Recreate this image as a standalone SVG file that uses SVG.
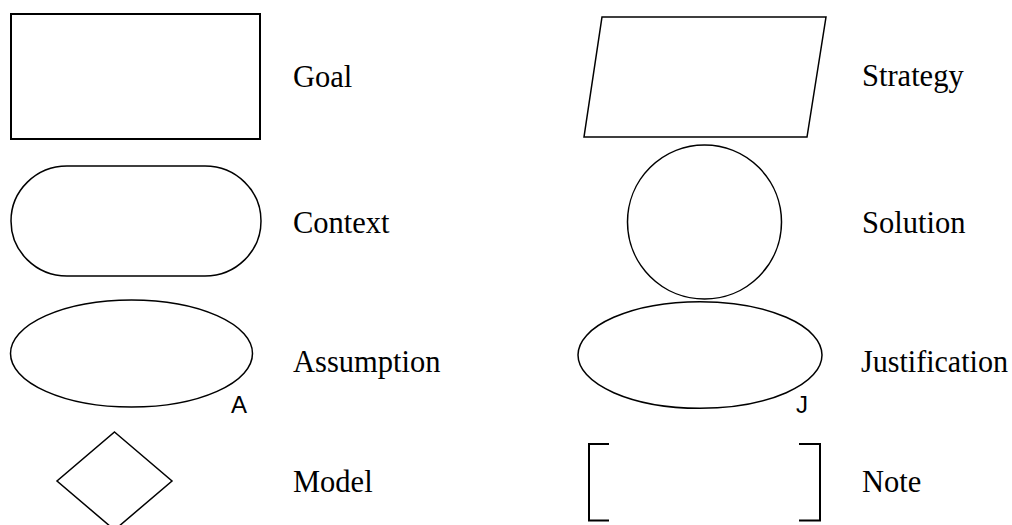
<svg xmlns="http://www.w3.org/2000/svg" width="1012" height="525" viewBox="0 0 1012 525">
<style>
.s{fill:#fff;stroke:#000;stroke-width:1.5}
.b{fill:none;stroke:#000;stroke-width:2}
.lbl{font-family:"Liberation Serif","Times New Roman",serif;font-size:30.5px;fill:#000}
.tag{font-family:"Liberation Sans",Arial,sans-serif;font-size:24px;fill:#000}
</style>
<rect width="1012" height="525" fill="#fff"/>
<g id="goal"><rect class="s" x="11" y="14" width="249" height="125" style="stroke-width:2"/><text class="lbl" x="293" y="87">Goal</text></g>
<g id="context"><rect class="s" x="11" y="166" width="250" height="110" rx="56" ry="55"/><text class="lbl" x="293" y="233">Context</text></g>
<g id="assumption"><ellipse class="s" cx="131.5" cy="353.5" rx="121" ry="53.5"/><text class="tag" x="231" y="413">A</text><text class="lbl" x="293" y="372">Assumption</text></g>
<g id="model"><polygon class="s" points="114.5,432 172,481 114.5,530 57,481"/><text class="lbl" x="293" y="492">Model</text></g>
<g id="strategy"><polygon class="s" points="602,17 826,17 807,137 584,137"/><text class="lbl" x="862" y="86">Strategy</text></g>
<g id="solution"><circle class="s" cx="704.5" cy="222" r="77"/><text class="lbl" x="862" y="233">Solution</text></g>
<g id="justification"><ellipse class="s" cx="700" cy="355" rx="122" ry="53.3"/><text class="tag" x="796" y="413">J</text><text class="lbl" x="861" y="372" textLength="147" lengthAdjust="spacingAndGlyphs">Justification</text></g>
<g id="note"><path class="b" d="M609,444 H589 V520.5 H609 M799,444 H820 V520.5 H799"/><text class="lbl" x="862" y="492">Note</text></g>
<g id="connectors"></g>
</svg>
